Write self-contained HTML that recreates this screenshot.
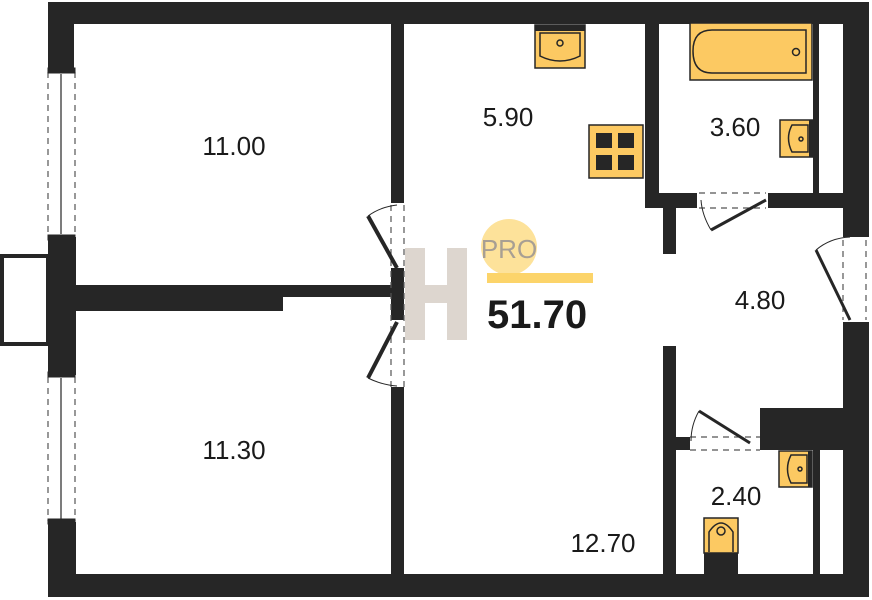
<!DOCTYPE html>
<html><head><style>body{margin:0;background:#fff}svg{display:block}text{font-family:"Liberation Sans",sans-serif;fill:#1a1a1a}</style></head><body>
<svg width="872" height="600" viewBox="0 0 872 600" xmlns="http://www.w3.org/2000/svg">
<rect width="872" height="600" fill="#fff"/>
<rect x="2" y="256" width="46" height="88" fill="none" stroke="#262626" stroke-width="4"/>
<g fill="#262626">
<rect x="48" y="2" width="821" height="22"/>
<rect x="843" y="2" width="26" height="235"/>
<rect x="843" y="322" width="26" height="275"/>
<rect x="48" y="574" width="821" height="23"/>
<rect x="48" y="2" width="26" height="68"/>
<rect x="48" y="237" width="28" height="138"/>
<rect x="48" y="522" width="28" height="75"/>
<rect x="74" y="285" width="209" height="26"/>
<rect x="74" y="285" width="317" height="12"/>
<rect x="391" y="24" width="13" height="179"/>
<rect x="391" y="268" width="13" height="52"/>
<rect x="391" y="387" width="13" height="187"/>
<rect x="645" y="24" width="14" height="184"/>
<rect x="645" y="193" width="52" height="15"/>
<rect x="768" y="193" width="75" height="15"/>
<rect x="813" y="22" width="6" height="171"/>
<rect x="663" y="208" width="13" height="46"/>
<rect x="663" y="346" width="13" height="228"/>
<rect x="676" y="437" width="14" height="13"/>
<rect x="760" y="408" width="83" height="42"/>
<rect x="813" y="450" width="7" height="124"/>
<rect x="704" y="552" width="34" height="22"/>
</g>
<g stroke="#555" stroke-width="1.2" stroke-dasharray="6,5" fill="none">
<line x1="48" y1="72" x2="48" y2="236"/><line x1="75" y1="72" x2="75" y2="236"/>
<line x1="48" y1="377" x2="48" y2="521"/><line x1="75" y1="377" x2="75" y2="521"/>
<line x1="391" y1="205" x2="391" y2="387"/><line x1="404" y1="205" x2="404" y2="387"/>
<line x1="699" y1="193" x2="766" y2="193"/><line x1="699" y1="208" x2="766" y2="208"/>
<line x1="843" y1="240" x2="843" y2="320"/><line x1="866" y1="240" x2="866" y2="320"/>
<line x1="690" y1="437" x2="760" y2="437"/><line x1="690" y1="450" x2="760" y2="450"/>
</g>
<g stroke="#262626" fill="none">
<line x1="61" y1="74" x2="61" y2="234" stroke-width="1.2"/>
<line x1="61" y1="378" x2="61" y2="520" stroke-width="1.2"/>
<rect x="48" y="68" width="27" height="5" fill="#262626"/><rect x="48" y="235" width="27" height="5" fill="#262626"/>
<rect x="48" y="372" width="27" height="5" fill="#262626"/><rect x="48" y="519" width="27" height="5" fill="#262626"/>
<line x1="397" y1="268" x2="368" y2="216" stroke-width="4"/>
<path d="M368 216 Q380 207 397 205" stroke-width="1"/>
<line x1="397" y1="322" x2="368" y2="378" stroke-width="4"/>
<path d="M368 378 Q382 385 397 386" stroke-width="1"/>
<line x1="766" y1="200" x2="711" y2="230" stroke-width="3"/>
<path d="M711 230 Q702 215 701 200" stroke-width="1"/>
<line x1="850" y1="320" x2="816" y2="250" stroke-width="3"/>
<path d="M816 250 Q830 238 850 237" stroke-width="1"/>
<line x1="750" y1="443" x2="699" y2="411" stroke-width="3"/>
<path d="M699 411 Q691 425 691 441" stroke-width="1"/>
</g>
<g fill="#fcc962" stroke="#262626" stroke-width="1.5">
<rect x="535" y="25" width="50" height="43"/>
<path d="M540 33 H580 V56 Q560 66 540 56 Z" fill="none"/>
<circle cx="560" cy="43" r="3" fill="none"/>
<rect x="589" y="125" width="54" height="53"/>
<rect x="690" y="23" width="122" height="57"/>
<path d="M712 30 H806 V73 H712 Q693 73 693 51 Q693 30 712 30Z" fill="none"/>
<circle cx="796" cy="52" r="3.5" fill="none"/>
<rect x="780" y="120" width="33" height="37"/>
<path d="M808 125 H792 Q785 138 792 152 H808 Z" fill="none"/>
<circle cx="801" cy="139" r="2" fill="none"/>
<rect x="779" y="451" width="33" height="36"/>
<path d="M807 455 H791 Q784 469 791 483 H807 Z" fill="none"/>
<circle cx="800" cy="469" r="2" fill="none"/>
<rect x="704" y="518" width="34" height="35"/>
<path d="M709 552 V532 Q721 514 733 532 V552" fill="none"/>
<circle cx="721" cy="531" r="4" fill="none"/>
</g>
<g fill="#262626">
<rect x="535" y="25" width="50" height="6"/>
<rect x="596" y="133" width="16" height="15"/><rect x="618" y="133" width="16" height="15"/>
<rect x="596" y="155" width="16" height="15"/><rect x="618" y="155" width="16" height="15"/>
<rect x="809" y="120" width="4" height="37"/><rect x="808" y="451" width="4" height="36"/>
</g>
<g fill="#ddd6cf">
<rect x="405" y="248" width="20" height="92"/>
<rect x="447" y="248" width="20" height="92"/>
<rect x="425" y="285" width="22" height="18"/>
</g>
<circle cx="509" cy="247" r="28" fill="#fde29a"/>
<text x="509" y="258" font-size="26" text-anchor="middle" style="fill:#a89f93">PRO</text>
<rect x="487" y="273" width="106" height="10" fill="#fcd46a"/>
<text x="487" y="328" font-size="40" font-weight="bold">51.70</text>
<g font-size="26" text-anchor="middle">
<text x="234" y="155">11.00</text>
<text x="508" y="126">5.90</text>
<text x="735" y="136">3.60</text>
<text x="760" y="309">4.80</text>
<text x="234" y="459">11.30</text>
<text x="603" y="552">12.70</text>
<text x="736" y="505">2.40</text>
</g>
</svg>
</body></html>
